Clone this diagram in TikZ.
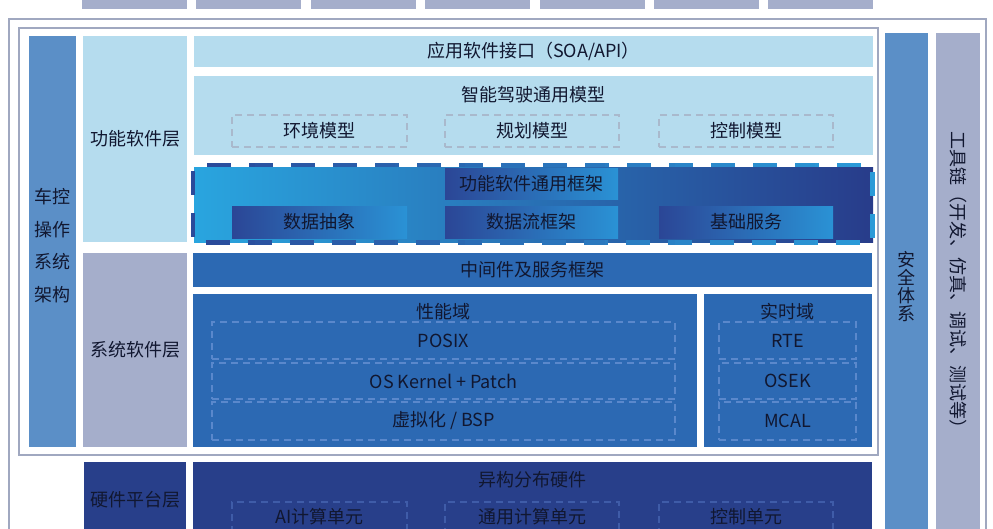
\documentclass[tikz,border=0pt]{standalone}
\usepackage{fontspec}
\setmainfont{Noto Sans CJK SC}
\definecolor{lightb}{HTML}{B5DCEE}
\definecolor{midb}{HTML}{5B8FC7}
\definecolor{grayb}{HTML}{A5AECB}
\definecolor{navyb}{HTML}{283F8A}
\definecolor{sysb}{HTML}{2C69B3}
\definecolor{framec}{HTML}{A0A8C0}
\definecolor{txt}{HTML}{111730}
\definecolor{gcyan}{HTML}{29A5DF}
\definecolor{gnavy}{HTML}{283C8A}
\definecolor{bnavy}{HTML}{2B4696}
\definecolor{bcyan}{HTML}{2A92D5}
\definecolor{dnv}{HTML}{2A4A9A}
\definecolor{dcy}{HTML}{2A9AD8}
\definecolor{dgray}{HTML}{A9B9CC}
\definecolor{dsys}{HTML}{5A88CC}
\definecolor{dhw}{HTML}{3F5CA8}
\newcommand\lblfont{\fontsize{18}{21}\selectfont}
\newcommand\mkbox[7]{\node[box,#2,minimum width={#5-#3},minimum height={#6-#4},text=txt,font=\lblfont] (#1) at ({(#3+#5)/2},{(#4+#6)/2}) {#7};}
\begin{document}
\begin{tikzpicture}[x=1pt,y=-1pt,
  box/.style={rectangle, inner sep=0pt, outer sep=0pt},
  lbl/.style={text=txt, font=\lblfont, inner sep=0pt},
  dbox/.style={box, draw=#1, dash pattern=on 7pt off 5pt, line width=1.3pt},
  gbox/.style={left color=bnavy, right color=bcyan},
  gborder/.style={line width=4.5pt, dash pattern=on 24pt off 18pt, dash phase=-6pt}
  ]
\useasboundingbox (0,0) rectangle (993,528);
\fill[white] (0,0) rectangle (993,528);

% top boxes (cut off)
\foreach \i/\xa in {1/82,2/196,3/311,4/425,5/540,6/654,7/768}{
  \mkbox{top\i}{fill=grayb}{\xa}{-10}{\xa+105}{9.3}{}
}

% frames
\mkbox{outer}{draw=framec,line width=2pt}{9}{19}{986}{560}{}
\mkbox{inner}{draw=framec,line width=1.5pt}{19}{28}{878}{455}{}

% left columns
\mkbox{arch}{fill=midb}{29}{36}{76}{447}{}
\node[lbl, align=center, font=\fontsize{18}{32.5}\selectfont] (archt) at (52.5,245.5) {车控\\操作\\系统\\架构};
\mkbox{fsl}{fill=lightb}{83}{36}{187}{242}{功能软件层}
\mkbox{ssl}{fill=grayb}{83}{253}{187}{447}{系统软件层}
\mkbox{hwl}{fill=navyb}{84}{462}{186}{538}{硬件平台层}

% functional software layer
\mkbox{api}{fill=lightb}{194}{36}{873}{67}{应用软件接口（SOA/API）}
\mkbox{adm}{fill=lightb}{194}{76}{873}{155}{}
\node[lbl] (admt) at (533.5,95) {智能驾驶通用模型};
\mkbox{env}{dbox=dgray}{232}{115}{407}{147}{环境模型}
\mkbox{plan}{dbox=dgray}{445}{115}{619}{147}{规划模型}
\mkbox{ctrl}{dbox=dgray}{659}{115}{833}{147}{控制模型}

\mkbox{ffw}{left color=gcyan,right color=gnavy}{194}{167}{873}{242}{}
\mkbox{ffwt}{gbox}{445}{168}{618}{199}{功能软件通用框架}
\mkbox{dabs}{gbox}{232}{206}{407}{238}{数据抽象}
\mkbox{dflow}{gbox}{445}{206}{618}{238}{数据流框架}
\mkbox{bsvc}{gbox}{659}{206}{833}{238}{基础服务}
\coordinate (bnw) at (193,165);
\coordinate (bse) at (872.5,242.5);
\foreach \i in {0,...,19}{
  \pgfmathtruncatemacro{\p}{100-\i*100/19}
  \begin{scope}
    \clip (185+\i*35,150) rectangle (185+\i*35+35.5,260);
    \draw[gborder, draw=dnv!\p!dcy] (bnw) rectangle (bse);
  \end{scope}
}

% system software layer
\mkbox{mid}{fill=sysb}{193}{253}{872}{287}{中间件及服务框架}
\mkbox{perf}{fill=sysb}{193}{294}{697}{447}{}
\node[lbl] (perft) at (443.5,312) {性能域};
\mkbox{posix}{dbox=dsys}{212}{322}{675}{359}{POSIX}
\mkbox{kern}{dbox=dsys}{212}{363}{675}{399}{OS Kernel + Patch}
\mkbox{bsp}{dbox=dsys}{212}{402}{675}{440}{虚拟化 / BSP}
\mkbox{rt}{fill=sysb}{704}{294}{872}{447}{}
\node[lbl] (rtt) at (787.5,312) {实时域};
\mkbox{rte}{dbox=dsys}{719}{322}{856}{359}{RTE}
\mkbox{osek}{dbox=dsys}{719}{363}{856}{399}{OSEK}
\mkbox{mcal}{dbox=dsys}{719}{402}{856}{440}{MCAL}

% hardware layer
\mkbox{hw}{fill=navyb}{193}{462}{872}{560}{}
\node[lbl] (hwt) at (532.5,480) {异构分布硬件};
\mkbox{ai}{dbox=dhw}{232}{502}{407}{560}{}
\mkbox{gp}{dbox=dhw}{445}{502}{619}{560}{}
\mkbox{cu}{dbox=dhw}{659}{502}{833}{560}{}
\node[lbl] (ait) at (319.5,517) {AI计算单元};
\node[lbl] (gpt) at (532,517) {通用计算单元};
\node[lbl] (cut) at (746,517) {控制单元};

% right columns
\mkbox{safe}{fill=midb}{885}{33}{928}{560}{}
\node[lbl, align=center, font=\fontsize{18}{18}\selectfont] (safet) at (906.5,287) {安\\全\\体\\系};
\mkbox{tool}{fill=grayb}{936}{33}{980}{560}{}
\node[lbl, rotate=-90] (toolt) at (958,284) {工具链（开发、仿真、调试、测试等）};
\end{tikzpicture}
\end{document}
